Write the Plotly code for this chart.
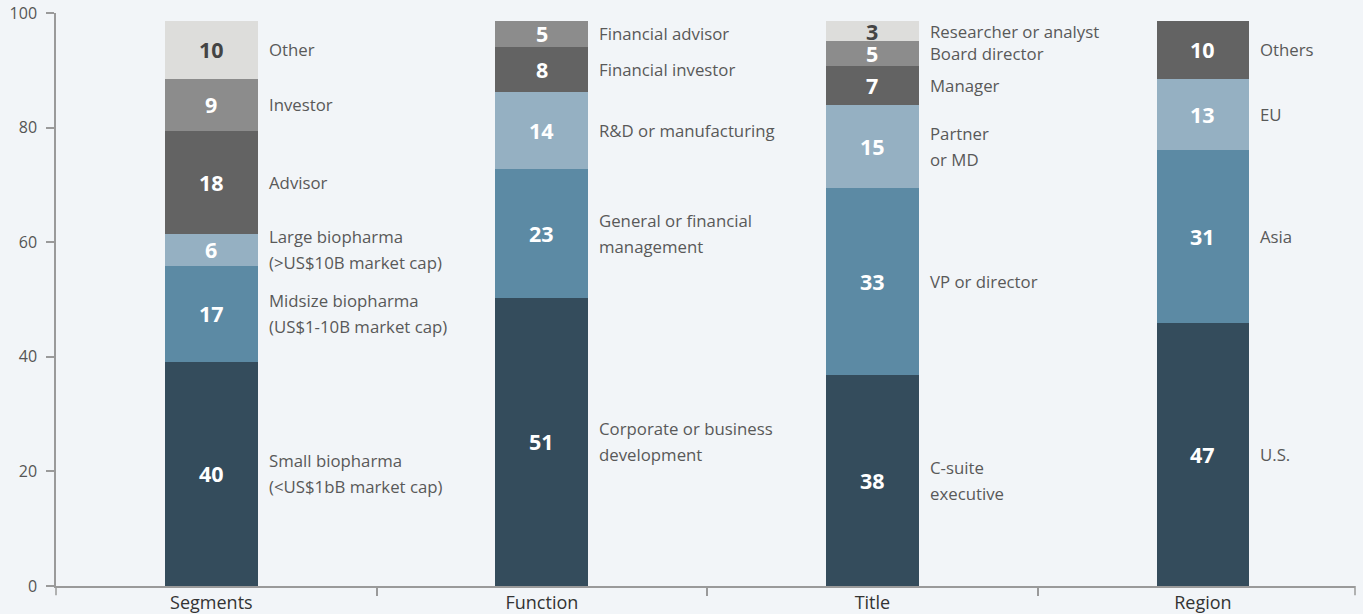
import plotly.graph_objects as go

# ---------------- data ----------------
categories = ["Segments", "Function", "Title", "Region"]

# bar segment heights (bottom level first)
level1 = [39.1, 50.3, 36.8, 45.9]
level2 = [16.8, 22.5, 32.7, 30.2]
level3 = [5.6, 13.4, 14.4, 12.4]
level4 = [17.9, 7.9, 6.9, 10.1]
level5 = [9.1, 4.5, 4.3, None]
level6 = [10.1, None, 3.5, None]

# numbers printed on the segments
shown1 = [40, 51, 38, 47]
shown2 = [17, 23, 33, 31]
shown3 = [6, 14, 15, 13]
shown4 = [18, 8, 7, 10]
shown5 = [9, 5, 5, None]
shown6 = [10, None, 3, None]

# side labels (one list of lines per bar)
names1 = [["Small biopharma", "(<US$1bB market cap)"], ["Corporate or business", "development"],
          ["C-suite", "executive"], ["U.S."]]
names2 = [["Midsize biopharma", "(US$1-10B market cap)"], ["General or financial", "management"],
          ["VP or director"], ["Asia"]]
names3 = [["Large biopharma", "(>US$10B market cap)"], ["R&D or manufacturing"],
          ["Partner", "or MD"], ["EU"]]
names4 = [["Advisor"], ["Financial investor"], ["Manager"], ["Others"]]
names5 = [["Investor"], ["Financial advisor"], ["Board director"], None]
names6 = [["Other"], None, ["Researcher or analyst"], None]

y_ticks = [0, 20, 40, 60, 80, 100]

# ---------------- style ----------------
colors = ["#344c5c", "#5c8aa4", "#95b0c2", "#636363", "#8c8c8c", "#dddddb"]
value_colors = ["white", "white", "white", "white", "white", "#444444"]
bg = "#f2f5f8"
font_family = "Open Sans, Noto Sans, sans-serif"
bar_w = 0.281

levels = [level1, level2, level3, level4, level5, level6]
shown = [shown1, shown2, shown3, shown4, shown5, shown6]
names = [names1, names2, names3, names4, names5, names6]

fig = go.Figure()
for k, vals in enumerate(levels):
    fig.add_trace(go.Bar(
        x=categories, y=vals, width=bar_w,
        marker=dict(color=colors[k], line=dict(width=0)),
        hoverinfo="skip", showlegend=False,
    ))

annotations = []
cum = [0.0] * len(categories)
line_gap = 13
for k, vals in enumerate(levels):
    for i, v in enumerate(vals):
        if v is None:
            continue
        mid = cum[i] + v / 2
        cum[i] += v
        if shown[k][i] is not None:
            annotations.append(dict(
                x=categories[i], y=mid, xref="x", yref="y",
                text="<b>%d</b>" % shown[k][i], showarrow=False,
                font=dict(family=font_family, size=21.5, color=value_colors[k]),
                xanchor="center", yanchor="middle",
            ))
        lines = names[k][i]
        if lines:
            n = len(lines)
            for j, ln in enumerate(lines):
                shift = (n - 1) * line_gap - j * 2 * line_gap
                annotations.append(dict(
                    x=i + bar_w / 2, y=mid, xref="x", yref="y",
                    text=ln, showarrow=False, xshift=9, yshift=shift,
                    font=dict(family=font_family, size=16.8, color="#595959"),
                    xanchor="left", yanchor="middle",
                ))

axis_col = "#9a9a9a"
shapes = [
    dict(type="line", xref="paper", yref="paper", x0=0, x1=0, y0=0, y1=-0.016,
         line=dict(color=axis_col, width=1.5)),
    dict(type="line", xref="paper", yref="paper", x0=1, x1=1, y0=0, y1=-0.016,
         line=dict(color=axis_col, width=1.5)),
]

fig.update_layout(
    width=1363, height=614,
    margin=dict(l=56, r=8, t=13, b=28),
    paper_bgcolor=bg, plot_bgcolor=bg,
    barmode="stack",
    annotations=annotations,
    shapes=shapes,
    font=dict(family=font_family),
    xaxis=dict(
        type="category", range=[-0.47, 3.46], automargin=False,
        showline=True, linecolor=axis_col, linewidth=1.5,
        tickson="boundaries", ticks="outside", ticklen=8, tickcolor=axis_col, tickwidth=1.5,
        showgrid=False, zeroline=False,
        tickfont=dict(family=font_family, size=18, color="#333333"),
    ),
    yaxis=dict(
        range=[0, 100], tickvals=y_ticks, automargin=False,
        showline=True, linecolor=axis_col, linewidth=1.5,
        ticks="outside", ticklen=8, tickcolor=axis_col, tickwidth=1.5,
        showgrid=False, zeroline=False,
        ticklabelstandoff=6,
        tickfont=dict(family=font_family, size=16, color="#555555"),
    ),
)

fig.write_html(
    "out.html",
    config={"displayModeBar": False},
    post_script="document.body.style.margin='0';document.body.style.padding='0';"
                "document.body.style.overflow='hidden';document.body.style.background='" + bg + "';",
)
